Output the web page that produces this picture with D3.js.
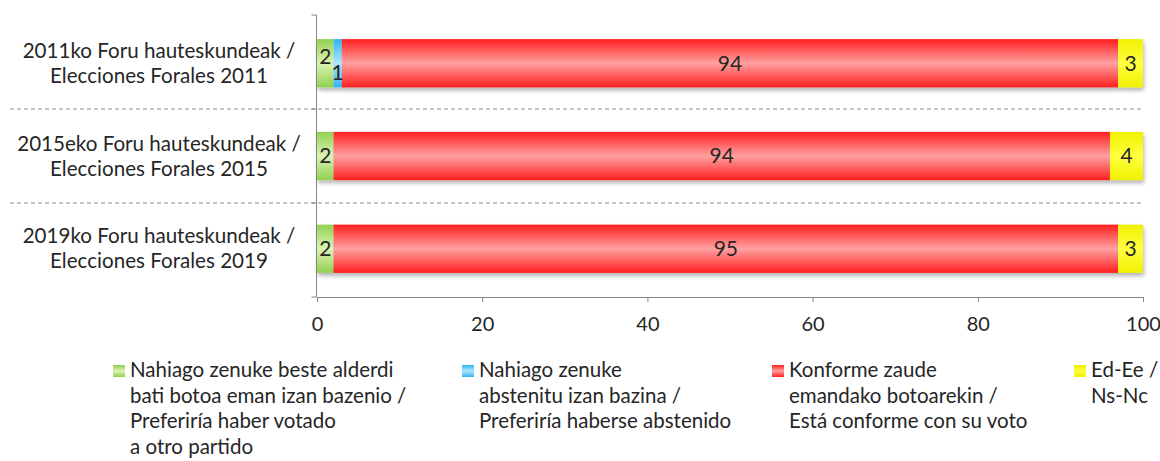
<!DOCTYPE html>
<html>
<head>
<meta charset="utf-8">
<script src="https://cdn.jsdelivr.net/npm/d3@7"></script>
<style>
  body { margin: 0; background: #fff; }
  svg text { font-family: Lato, "Open Sans", sans-serif; fill: #262626; }
</style>
</head>
<body>
<div id="chart"></div>
<script>
// Voto en elecciones forales - barras apiladas 100%
const categories = [
    ['2011ko Foru hauteskundeak /', 'Elecciones Forales 2011'],
    ['2015eko Foru hauteskundeak /', 'Elecciones Forales 2015'],
    ['2019ko Foru hauteskundeak /', 'Elecciones Forales 2019']
];
const seriesNames = ['otro', 'abst', 'conforme', 'nsnc'];
const otroPartido = [2, 2, 2];
const abstenido = [1, 0, 0];
const conforme = [94, 94, 95];
const nsnc = [3, 4, 3];
const xTicks = [0, 20, 40, 60, 80, 100];
const legendLabels = [
    ['Nahiago zenuke beste alderdi', 'bati botoa eman izan bazenio /', 'Preferiría haber votado', 'a otro partido'],
    ['Nahiago zenuke', 'abstenitu izan bazina /', 'Preferiría haberse abstenido'],
    ['Konforme zaude', 'emandako botoarekin /', 'Está conforme con su voto'],
    ['Ed-Ee /', 'Ns-Nc']
];

const W = 1160, H = 461;
const margin = { left: 317, right: 17, top: 15, bottom: 164 };
const colors = {
    otro: ['#92d050', '#dcf3b4'],
    abst: ['#2fb6f0', '#aee6ff'],
    conforme: ['#ff1f1f', '#ffa0a0'],
    nsnc: ['#f0f000', '#ffff40']
};

const svg = d3.select('#chart').append('svg').attr('width', W).attr('height', H);
const defs = svg.append('defs');
seriesNames.forEach(k => {
    const g = defs.append('linearGradient').attr('id', 'g-' + k)
        .attr('x1', 0).attr('y1', 0).attr('x2', 0).attr('y2', 1);
    g.append('stop').attr('offset', '0%').attr('stop-color', colors[k][0]);
    g.append('stop').attr('offset', '50%').attr('stop-color', colors[k][1]);
    g.append('stop').attr('offset', '100%').attr('stop-color', colors[k][0]);
});
const sh = defs.append('filter').attr('id', 'shadow').attr('x', '-5%').attr('y', '-20%').attr('width', '110%').attr('height', '150%');
sh.append('feDropShadow').attr('dx', 1).attr('dy', 3).attr('stdDeviation', 2)
    .attr('flood-color', '#000').attr('flood-opacity', 0.3);

const x = d3.scaleLinear().domain([0, 100]).range([margin.left, W - margin.right]);
const y = d3.scaleBand().domain(d3.range(categories.length))
    .range([margin.top, H - margin.bottom]).paddingInner(0.48).paddingOuter(0.26);

const rows = categories.map((c, i) => ({
    i, otro: otroPartido[i], abst: abstenido[i], conforme: conforme[i], nsnc: nsnc[i]
}));
const stacked = d3.stack().keys(seriesNames)(rows);

// separators between rows
const bandStep = (H - margin.bottom - margin.top) / categories.length;
[1, 2].forEach(k => {
    const yy = margin.top + k * bandStep;
    svg.append('line').attr('x1', 10).attr('x2', W - margin.right)
        .attr('y1', yy).attr('y2', yy)
        .attr('stroke', '#8c8c8c').attr('stroke-dasharray', '4,3');
});

// bars
const barG = svg.append('g').attr('filter', 'url(#shadow)');
stacked.forEach(s => {
    barG.selectAll(null).data(s.filter(d => d[1] > d[0])).join('rect')
        .attr('x', d => x(d[0]))
        .attr('width', d => x(d[1]) - x(d[0]))
        .attr('y', d => y(d.data.i))
        .attr('height', y.bandwidth())
        .attr('fill', 'url(#g-' + s.key + ')');
});

// value labels (2 and 1 pushed apart when both small segments sit together)
const nudge = { otro: -7, abst: 9 };
stacked.forEach(s => {
    svg.selectAll(null).data(s.filter(d => d[1] > d[0])).join('text')
        .attr('x', d => (x(d[0]) + x(d[1])) / 2)
        .attr('y', d => y(d.data.i) + y.bandwidth() / 2 + (d.data.abst && nudge[s.key] ? nudge[s.key] : 0))
        .attr('dy', '0.35em')
        .attr('text-anchor', 'middle')
        .attr('font-size', 21)
        .text(d => d[1] - d[0]);
});

// axes
const yAxisX = x(0) - 0.5;
svg.append('line').attr('x1', yAxisX).attr('x2', yAxisX)
    .attr('y1', margin.top).attr('y2', H - margin.bottom).attr('stroke', '#868686');
[0, 1, 2, 3].forEach(k => {
    const yy = margin.top + k * bandStep;
    svg.append('line').attr('x1', yAxisX - 5).attr('x2', yAxisX)
        .attr('y1', yy).attr('y2', yy).attr('stroke', '#868686');
});
const xAxis = svg.append('g').attr('transform', `translate(0,${H - margin.bottom})`)
    .call(d3.axisBottom(x).tickValues(xTicks).tickSize(5).tickPadding(15));
xAxis.selectAll('line, path').attr('stroke', '#868686');
xAxis.selectAll('text').attr('font-size', 20).attr('fill', '#262626')
    .style('font-family', 'Lato, sans-serif');

// category labels
categories.forEach((lines, i) => {
    const cy = y(i) + y.bandwidth() / 2;
    const t = svg.append('text').attr('text-anchor', 'middle').attr('font-size', 20.6);
    lines.forEach((ln, j) => {
        t.append('tspan').attr('x', 159).attr('y', cy + (j - 0.5) * 25).attr('dy', '0.35em').text(ln);
    });
});

// legend
const legendX = [113, 462, 772, 1074];
legendLabels.forEach((lines, k) => {
    const key = seriesNames[k];
    svg.append('rect').attr('x', legendX[k]).attr('y', 365).attr('width', 12).attr('height', 12)
        .attr('fill', 'url(#g-' + key + ')');
    const t = svg.append('text').attr('font-size', 20.5);
    lines.forEach((ln, j) => {
        t.append('tspan').attr('x', legendX[k] + 17).attr('y', 370 + j * 25.5).attr('dy', '0.35em').text(ln);
    });
});
</script>
</body>
</html>
